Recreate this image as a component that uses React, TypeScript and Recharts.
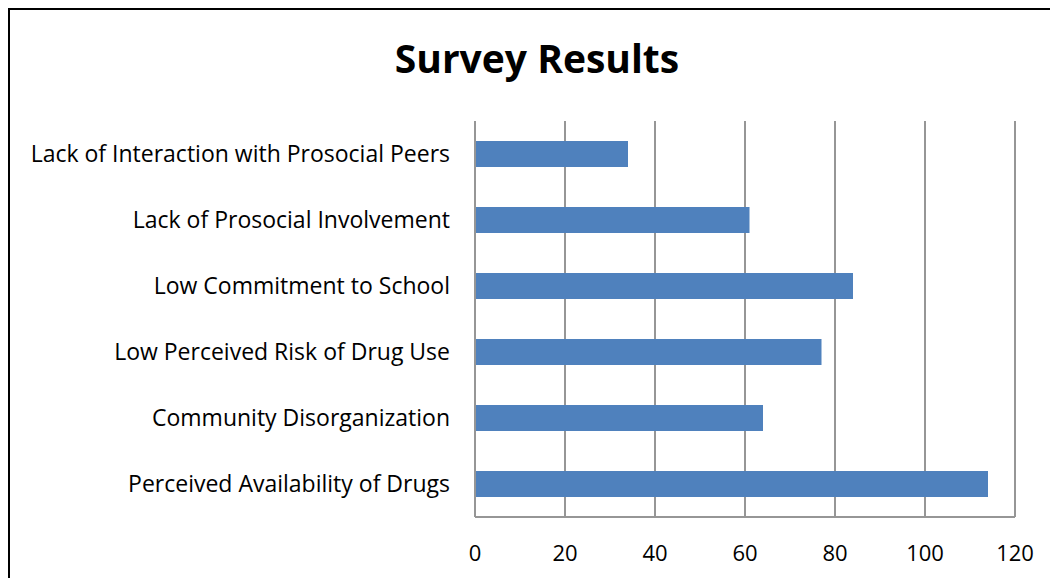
import React from 'react';
import { BarChart, Bar, XAxis, YAxis, CartesianGrid } from 'recharts';

// Risk factors, listed top to bottom as they appear on the chart
const factors = [
  'Lack of Interaction with Prosocial Peers',
  'Lack of Prosocial Involvement',
  'Low Commitment to School',
  'Low Perceived Risk of Drug Use',
  'Community Disorganization',
  'Perceived Availability of Drugs',
];

const responses = [34, 61, 84, 77, 64, 114];

const xTicks = [0, 20, 40, 60, 80, 100, 120];

const data = factors.map((name, i) => ({ name, value: responses[i] }));

const FONT = '"Open Sans", "Noto Sans", sans-serif';
const GRID = '#969696';
const BAR = '#4F81BD';

const App = () => {
  return (
    // fixed frame so the oversized box never makes the page scroll
    <div
      style={{
        position: 'fixed',
        left: 0,
        top: 0,
        width: 1050,
        height: 578,
        overflow: 'hidden',
        background: '#fff',
      }}
    >
      <div
        style={{
          position: 'absolute',
          left: 8,
          top: 8,
          width: 1060,
          height: 600,
          border: '2px solid #000',
          background: '#fff',
          fontFamily: FONT,
        }}
      >
        <div
          style={{
            position: 'absolute',
            left: 0,
            top: 24,
            width: 1054,
            textAlign: 'center',
            fontSize: 39,
            fontWeight: 700,
            lineHeight: '48px',
            color: '#000',
          }}
        >
          Survey Results
        </div>
        <BarChart
          width={1040}
          height={570}
          data={data}
          layout="vertical"
          margin={{ top: 111, right: 35, bottom: 23, left: 0 }}
        >
          <CartesianGrid horizontal={false} stroke={GRID} strokeWidth={2} />
          <XAxis
            type="number"
            domain={[0, 120]}
            ticks={xTicks}
            height={40}
            axisLine={{ stroke: GRID, strokeWidth: 2 }}
            tickLine={false}
            tickSize={0}
            tickMargin={28}
            tick={{ fill: '#000', fontSize: 22, fontFamily: FONT }}
          />
          <YAxis
            type="category"
            dataKey="name"
            width={465}
            axisLine={{ stroke: GRID, strokeWidth: 2 }}
            tickLine={false}
            tickSize={0}
            tickMargin={25}
            interval={0}
            tick={{ fill: '#000', fontSize: 23, fontFamily: FONT }}
          />
          <Bar dataKey="value" fill={BAR} barSize={26} isAnimationActive={false} />
        </BarChart>
      </div>
    </div>
  );
};

export default App;
